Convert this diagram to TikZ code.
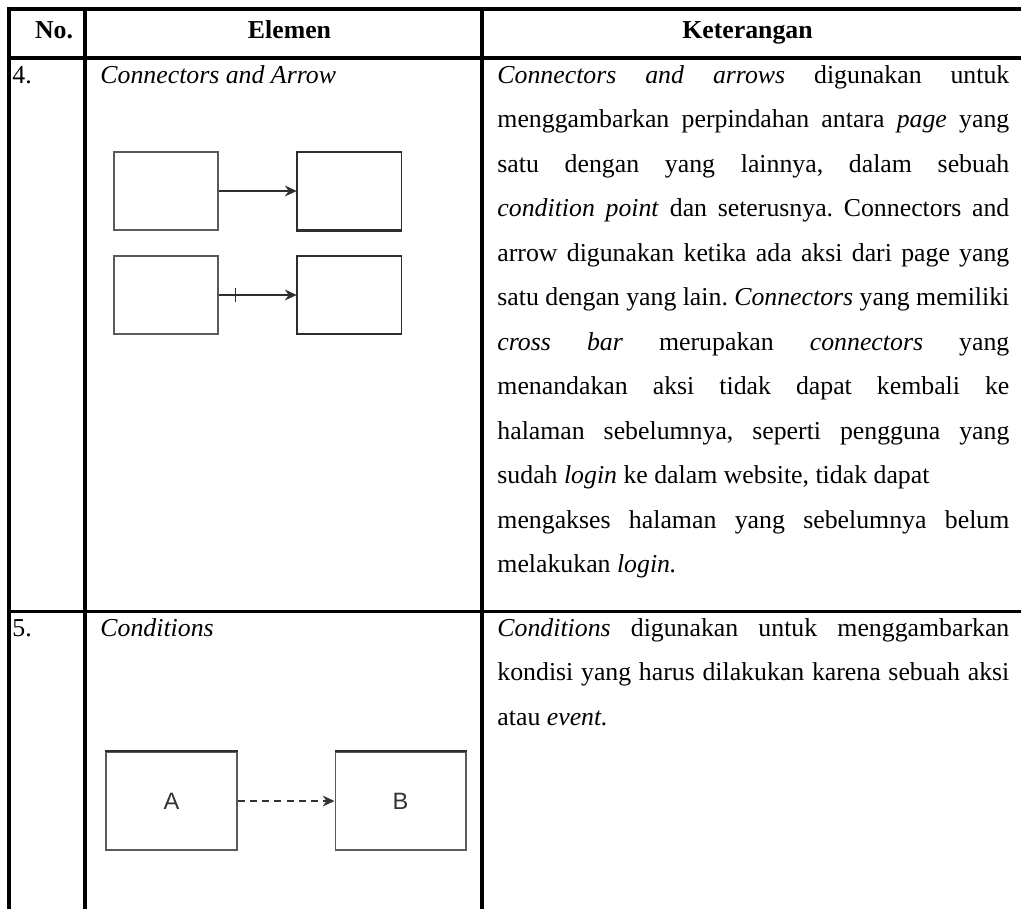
\documentclass[tikz,border=0pt]{standalone}
\usepackage{fontspec}
\setmainfont{Liberation Serif}
\setsansfont{Liberation Sans}
\usetikzlibrary{arrows.meta, positioning, calc}
\definecolor{ruleBlack}{HTML}{000000}
\definecolor{boxGray}{HTML}{5A5A5A}
\definecolor{boxDark}{HTML}{2E2E2E}
\definecolor{labelGray}{HTML}{333333}
\newcommand{\fullline}[1]{\makebox[\linewidth][s]{#1}}
\tikzset{
  tableRule/.style={line width=1.4pt, ruleBlack, line cap=rect},
  headText/.style={anchor=base, inner sep=0pt, font=\bfseries\fontsize{12pt}{14pt}\selectfont},
  cellText/.style={anchor=base west, inner sep=0pt, font=\fontsize{12pt}{20.7pt}\selectfont\frenchspacing},
  pageBox/.style={rectangle, draw=boxGray, line width=0.6pt, inner sep=0pt,
                  minimum width=48.4pt, minimum height=36.3pt},
  pageBoxD/.style={pageBox, draw=boxDark},
  condBox/.style={rectangle, draw=boxGray, line width=0.55pt, inner sep=0pt,
                  minimum width=60.9pt, minimum height=45.6pt, text=labelGray,
                  font=\sffamily\fontsize{11pt}{13pt}\selectfont},
  edgeD/.style={boxDark, line width=1pt},
  arrowC/.style={-{Stealth[length=5.5pt, width=5pt]}, boxDark, line width=0.65pt},
  arrowDash/.style={arrowC, draw=labelGray, line width=0.85pt, dash pattern=on 3.3pt off 2.4pt},
}

\begin{document}
\begin{tikzpicture}[x=0.4651pt, y=-0.4651pt]
    \useasboundingbox (0,0) rectangle (1021,909);
    % table rules
    \draw[tableRule] (9,9) -- (1021,9);
    \draw[tableRule] (9,58) -- (1021,58);
    \draw[tableRule] (9,611) -- (1021,611);
    \foreach \xc in {9,85,482} \draw[tableRule] (\xc,9) -- (\xc,909);
    % header
    \node[headText] (hNo)  at (54,38)    {No.};
    \node[headText] (hEl)  at (289.5,38) {Elemen};
    \node[headText] (hKet) at (747.5,38) {Keterangan};
    % row 4
    \node[cellText] (no4) at (12,83)  {4.};
    \node[cellText] (el4) at (100,83) {\itshape Connectors and Arrow};
    \node[cellText] (ket4) at (497,83) {\parbox[t]{238.1pt}{%
      \fullline{\textit{Connectors} \textit{and} \textit{arrows} digunakan untuk}\\
      \fullline{menggambarkan perpindahan antara \textit{page} yang}\\
      \fullline{satu dengan yang lainnya, dalam sebuah}\\
      \fullline{\textit{condition point} dan seterusnya. Connectors and}\\
      \fullline{arrow digunakan ketika ada aksi dari page yang}\\
      \fullline{satu dengan yang lain. \textit{Connectors} yang memiliki}\\
      \fullline{\textit{cross} \textit{bar} merupakan \textit{connectors} yang}\\
      \fullline{menandakan aksi tidak dapat kembali ke}\\
      \fullline{halaman sebelumnya, seperti pengguna yang}\\
      sudah \textit{login} ke dalam website, tidak dapat\\
      \fullline{mengakses halaman yang sebelumnya belum}\\
      melakukan \textit{login.}}};
    \node[pageBox] (pg1) at (166,191) {};
    \node[pageBoxD, right=36.3pt of pg1] (pg2) {};
    \node[pageBox] (pg3) at (166,295) {};
    \node[pageBoxD, right=36.3pt of pg3] (pg4) {};
    \draw[edgeD] (pg2.north west) -- (pg2.south west) -- (pg2.south east);
    \draw[edgeD] (pg4.north west) -- (pg4.south west);
    \draw[arrowC] (pg1) -- (pg2);
    \draw[arrowC] (pg3) -- (pg4);
    \coordinate (bar) at ($(pg3.east)+(17,0)$);
    \draw[arrowC, -] ($(bar)+(0,-7)$) -- ($(bar)+(0,7)$);
    % row 5
    \node[cellText] (no5) at (12,636)  {5.};
    \node[cellText] (el5) at (100,636) {\itshape Conditions};
    \node[cellText] (ket5) at (497,636) {\parbox[t]{238.1pt}{%
      \fullline{\textit{Conditions} digunakan untuk menggambarkan}\\
      \fullline{kondisi yang harus dilakukan karena sebuah aksi}\\
      atau \textit{event.}}};
    \node[condBox] (cA) at (171.5,801) {A};
    \node[condBox, right=45.1pt of cA] (cB) {B};
    \draw[edgeD] (cA.north west) -- (cA.north east);
    \draw[edgeD] (cB.north west) -- (cB.north east);
    \draw[arrowDash] (cA) -- (cB);
\end{tikzpicture}
\end{document}
